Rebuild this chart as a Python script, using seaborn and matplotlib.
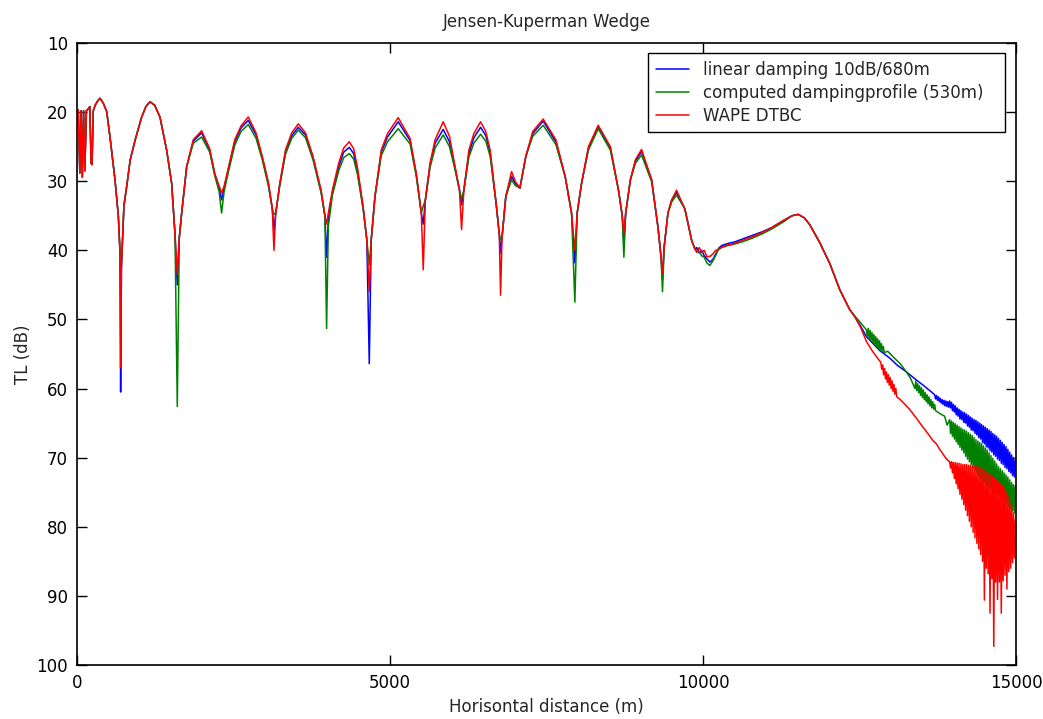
import numpy as np
import pandas as pd
import matplotlib
matplotlib.use("Agg")
import matplotlib.pyplot as plt
import seaborn as sns

# ---------------- data ----------------
title = "Jensen-Kuperman Wedge"
xlabel = "Horisontal distance (m)"
ylabel = "TL (dB)"
labels = ["linear damping 10dB/680m", "computed dampingprofile (530m)", "WAPE DTBC"]
colors = ["#0000ff", "#008000", "#ff0000"]
xticks = [0, 5000, 10000, 15000]
yticks = [10, 20, 30, 40, 50, 60, 70, 80, 90, 100]

# shared range grid, 0 .. 12345 m
x_main = [0, 20, 45, 65, 85, 105, 125, 150, 175, 205, 225, 240, 260, 290, 330, 367,
          420, 474, 527, 570, 607, 660, 687, 697, 710, 750, 790, 850, 930, 1030, 1100,
          1166, 1240, 1325, 1432, 1512, 1565, 1602, 1634, 1672, 1752, 1857, 1991, 2120,
          2200, 2270, 2310, 2350, 2420, 2520, 2620, 2736, 2860, 2960, 3060, 3120, 3146,
          3175, 3240, 3330, 3430, 3535, 3650, 3770, 3900, 3960, 3987, 4015, 4080, 4180,
          4260, 4349, 4420, 4480, 4570, 4630, 4669, 4700, 4760, 4860, 4960, 5131, 5320,
          5420, 5500, 5531, 5565, 5640, 5720, 5850, 5950, 6030, 6110, 6143, 6180, 6260,
          6340, 6447, 6530, 6600, 6700, 6745, 6766, 6790, 6850, 6942, 7000, 7075, 7170,
          7280, 7447, 7650, 7800, 7900, 7953, 7990, 8060, 8170, 8326, 8520, 8650, 8710,
          8736, 8765, 8840, 8920, 9018, 9180, 9280, 9330, 9353, 9380, 9440, 9500, 9577,
          9710, 9820, 9870, 9900, 9940, 9980, 10020, 10060, 10109, 10160, 10200, 10250,
          10300, 10400, 10500, 10650, 10800, 10950, 11100, 11300, 11420, 11520, 11620,
          11706, 11866, 12025, 12185, 12345]

red_main = [19.7, 19.7, 28.8, 19.8, 29.4, 19.8, 28.5, 19.8, 19.6, 19.2, 27.4, 27.6, 19.8, 19.0, 18.4, 18.0,
            18.7, 19.9, 23.6, 26.9, 29.8, 35.0, 40.4, 57.0, 42.0, 33.5, 31.0, 26.9, 24.0, 20.8, 19.2,
            18.5, 19.0, 20.7, 25.5, 30.3, 37.6, 43.5, 38.2, 34.6, 27.9, 24.0, 22.7, 25.3,
            28.9, 30.7, 31.7, 30.7, 28.0, 24.0, 22.0, 20.7, 23.0, 26.4, 30.3, 34.0, 40.0,
            34.6, 30.3, 25.5, 23.0, 21.7, 23.0, 26.4, 31.3, 35.0, 36.2, 34.6, 31.3, 27.4,
            25.2, 24.3, 25.3, 28.0, 33.6, 38.5, 46.0, 38.5, 32.2, 25.5, 23.1, 20.8, 23.8,
            28.9, 34.6, 42.8, 32.7, 27.4, 24.0, 21.4, 23.5, 27.4, 31.3, 37.0, 31.3, 25.5,
            23.1, 21.4, 22.8, 25.5, 33.6, 37.6, 46.5, 38.1, 32.2, 28.6, 30.0, 31.0, 26.4,
            22.8, 21.0, 24.0, 29.4, 34.6, 40.0, 34.6, 30.3, 25.0, 21.9, 25.0, 31.3, 35.0,
            37.6, 34.6, 29.8, 26.9, 25.4, 29.8, 36.6, 41.0, 43.3, 39.5, 34.6, 32.7, 31.3,
            34.0, 38.6, 39.8, 40.3, 39.6, 40.3, 40.0, 40.9, 40.9, 40.5, 40.0, 39.9,
            39.5, 39.2, 39.0, 38.5, 38.0, 37.4, 36.7, 35.6, 35.0, 34.8, 35.3,
            36.3, 38.9, 41.9, 45.7, 48.6]

blue_main = [19.7, 19.7, 28.8, 19.8, 29.4, 19.8, 28.5, 19.8, 19.6, 19.2, 27.4, 27.6, 19.8, 19.0, 18.4, 18.0,
             18.7, 19.9, 23.6, 26.9, 29.8, 35.0, 40.4, 60.5, 42.5, 33.5, 31.0, 26.9, 24.0, 20.8, 19.2,
             18.5, 19.0, 20.7, 25.5, 30.3, 37.6, 45.0, 38.2, 34.6, 27.9, 24.2, 23.0, 25.5,
             28.9, 31.0, 32.7, 31.0, 28.2, 24.3, 22.3, 21.2, 23.3, 26.6, 30.5, 34.0, 37.1,
             34.6, 30.4, 25.8, 23.4, 22.2, 23.3, 26.6, 31.5, 35.0, 41.0, 35.5, 31.6, 27.9,
             25.8, 25.1, 26.0, 28.5, 33.8, 38.5, 56.4, 38.5, 32.2, 25.8, 23.6, 21.4, 24.1,
             29.0, 34.6, 36.2, 32.7, 27.6, 24.5, 22.5, 24.3, 27.7, 31.3, 33.4, 31.3, 26.0,
             23.7, 22.2, 23.4, 25.9, 33.6, 37.6, 40.4, 38.1, 32.2, 29.3, 30.3, 31.0, 26.4,
             23.1, 21.3, 24.3, 29.4, 34.6, 41.8, 34.6, 30.3, 25.2, 22.1, 25.2, 31.3, 35.0,
             39.0, 34.6, 29.8, 27.1, 25.7, 29.8, 36.6, 41.0, 44.3, 39.5, 34.6, 32.7, 31.6,
             34.0, 38.6, 39.8, 39.6, 40.4, 40.0, 40.8, 41.2, 41.7, 41.3, 40.6, 39.7,
             39.3, 39.0, 38.8, 38.3, 37.8, 37.3, 36.7, 35.6, 35.0, 34.8, 35.3,
             36.3, 38.9, 41.9, 45.7, 48.6]

green_main = [19.7, 19.7, 28.8, 19.8, 29.4, 19.8, 28.5, 19.8, 19.6, 19.2, 27.4, 27.6, 19.8, 19.0, 18.4, 18.0,
              18.7, 19.9, 23.6, 26.9, 29.8, 35.0, 40.0, 43.8, 42.0, 33.5, 31.0, 26.9, 24.0, 20.8, 19.2,
              18.5, 19.0, 20.7, 25.5, 30.3, 37.6, 62.6, 38.2, 34.6, 27.9, 24.5, 23.6, 25.8,
              29.2, 31.5, 34.6, 31.5, 28.6, 24.8, 22.8, 21.8, 23.8, 26.9, 30.8, 34.0, 34.8,
              34.6, 30.6, 26.1, 23.8, 22.6, 23.7, 26.9, 31.7, 35.0, 51.3, 36.5, 32.0, 28.5,
              26.6, 26.0, 26.8, 29.0, 34.0, 38.5, 42.1, 38.5, 32.2, 26.3, 24.3, 22.4, 24.6,
              29.3, 34.6, 33.6, 32.7, 28.0, 25.2, 23.3, 25.0, 28.0, 31.3, 32.6, 31.3, 26.5,
              24.5, 23.2, 24.2, 26.4, 33.6, 37.6, 38.5, 38.1, 32.2, 29.8, 30.6, 31.0, 26.4,
              23.5, 21.9, 24.7, 29.4, 34.6, 47.5, 34.6, 30.3, 25.5, 22.4, 25.5, 31.3, 35.0,
              41.0, 34.6, 29.8, 27.4, 26.2, 30.1, 36.6, 41.0, 46.0, 39.5, 34.6, 33.0, 32.0,
              34.0, 38.6, 39.8, 40.0, 40.2, 40.8, 41.0, 41.8, 42.2, 41.5, 40.8, 39.8,
              39.6, 39.3, 39.1, 38.7, 38.2, 37.6, 36.9, 35.8, 35.0, 34.8, 35.3,
              36.3, 38.9, 41.9, 45.7, 48.6]

# where the three solutions split apart (12345 .. 13940 m)
red_split_x = [12425, 12520, 12612, 12700, 12780,
               12840, 12855, 12870, 12885, 12900, 12915, 12930, 12945, 12960, 12975, 12990,
               13005, 13020, 13035, 13050, 13065, 13080, 13095,
               13140, 13196, 13300, 13410, 13515, 13600, 13670, 13729, 13782, 13889]
red_split_y = [49.6, 51.2, 53.2, 54.5, 55.5,
               56.2, 57.2, 56.6, 58.0, 57.1, 58.6, 57.6, 59.1, 58.0, 59.5, 58.4,
               60.0, 58.9, 60.4, 59.4, 60.8, 60.0, 61.2,
               61.5, 62.0, 63.0, 64.3, 65.6, 66.6, 67.5, 68.0, 68.8, 70.2]

blue_split_x = [12425, 12520, 12612, 12717, 12824, 12984, 13100, 13250, 13400, 13515, 13650,
                13700, 13715, 13730, 13745, 13760, 13775, 13790, 13805, 13820, 13835, 13850,
                13865, 13880, 13895, 13910, 13925]
blue_split_y = [49.6, 51.0, 52.5, 53.5, 54.5, 55.6, 56.6, 57.6, 58.7, 59.5, 60.5,
                60.9, 61.5, 61.0, 61.7, 61.2, 61.9, 61.4, 62.1, 61.6, 62.3, 61.7,
                62.5, 61.8, 62.6, 61.9, 62.7]

green_split_x = [12425, 12520, 12610,
                 12625, 12640, 12655, 12670, 12685, 12700, 12715, 12730, 12745, 12760,
                 12775, 12790, 12805, 12820, 12835, 12850, 12865, 12880, 12895,
                 12950, 13036, 13150, 13250, 13320,
                 13385, 13400, 13415, 13430, 13445, 13460, 13475, 13490, 13505, 13520,
                 13535, 13550, 13565, 13580, 13595, 13610, 13625, 13640, 13655, 13670,
                 13685, 13700, 13715,
                 13782, 13860, 13900]
green_split_y = [49.5, 50.5, 51.5,
                 52.4, 51.3, 52.8, 51.6, 53.0, 51.9, 53.3, 52.2, 53.6, 52.5,
                 53.9, 52.8, 54.2, 53.1, 54.4, 53.5, 54.6, 53.9, 54.8,
                 54.6, 55.4, 56.4, 57.6, 58.6,
                 60.0, 58.9, 60.3, 59.3, 60.6, 59.6, 61.0, 59.9, 61.3, 60.2,
                 61.6, 60.6, 61.9, 60.9, 62.2, 61.2, 62.5, 61.6, 62.8, 61.9,
                 63.0, 62.3, 63.2,
                 63.6, 64.0, 65.3]

# noisy far field, shared grid 13940 .. 14990 m
x_tail = [13940, 13955, 13970, 13985, 14000, 14015, 14030, 14045, 14060, 14075, 14090, 14105,
          14120, 14135, 14150, 14165, 14180, 14195, 14210, 14225, 14240, 14255, 14270, 14285,
          14300, 14315, 14330, 14345, 14360, 14375, 14390, 14405, 14420, 14435, 14450, 14465,
          14480, 14495, 14510, 14525, 14540, 14555, 14570, 14585, 14600, 14615, 14630, 14645,
          14660, 14675, 14690, 14705, 14720, 14735, 14750, 14765, 14780, 14795, 14810, 14825,
          14840, 14855, 14870, 14885, 14900, 14915, 14930, 14945, 14960, 14975, 14990]
red_tail = [70.6, 71.5, 70.6, 72.2, 70.7, 73.0, 70.7, 73.8, 70.8, 74.5, 70.8, 75.3,
            70.9, 76.0, 71.0, 76.8, 71.0, 77.6, 71.0, 78.4, 71.1, 79.2, 71.1, 80.0,
            71.2, 80.8, 71.2, 81.6, 71.2, 82.4, 71.3, 83.2, 71.4, 84.0, 71.5, 85.0,
            71.6, 90.6, 71.8, 86.0, 72.0, 86.8, 72.2, 92.5, 72.5, 87.5, 72.7, 97.3,
            73.0, 88.0, 73.3, 90.5, 73.5, 88.0, 73.8, 92.5, 74.0, 87.8, 74.5, 87.0,
            75.0, 89.0, 75.5, 86.5, 76.5, 86.0, 77.0, 85.2, 78.0, 84.5, 79.0]
blue_tail = [61.8, 62.8, 62.0, 63.2, 62.3, 63.4, 62.5, 63.8, 62.8, 64.0, 63.0, 64.4,
             63.2, 64.5, 63.4, 64.9, 63.5, 65.0, 63.7, 65.4, 63.9, 65.6, 64.1, 66.0,
             64.3, 66.1, 64.5, 66.5, 64.6, 66.7, 64.8, 67.1, 65.0, 67.3, 65.2, 67.8,
             65.4, 68.0, 65.6, 68.4, 65.8, 68.6, 66.0, 69.0, 66.2, 69.2, 66.5, 69.6,
             66.7, 69.8, 66.9, 70.2, 67.2, 70.4, 67.5, 70.8, 67.8, 71.0, 68.1, 71.4,
             68.4, 71.6, 68.8, 72.0, 69.2, 72.2, 69.6, 72.6, 70.0, 72.8, 70.4]
green_tail = [64.5, 66.5, 64.7, 66.9, 64.9, 67.3, 65.1, 67.7, 65.3, 68.1, 65.5, 68.5,
              65.7, 68.9, 65.9, 69.3, 66.0, 69.8, 66.2, 70.2, 66.4, 70.6, 66.6, 71.0,
              66.8, 71.4, 67.1, 71.8, 67.4, 72.2, 67.6, 72.6, 67.8, 73.0, 68.0, 73.3,
              68.3, 73.6, 68.6, 73.9, 68.9, 74.2, 69.3, 74.5, 69.7, 74.7, 70.1, 74.9,
              70.5, 75.1, 70.9, 75.3, 71.3, 75.6, 71.6, 75.9, 71.9, 76.2, 72.2, 76.5,
              72.5, 76.8, 72.8, 77.1, 73.2, 77.4, 73.6, 77.7, 73.9, 78.0, 74.1]

# ---------------- figure ----------------
sns.set_style("ticks")
plt.rcParams["font.family"] = ["DejaVu Sans"]
plt.rcParams["font.size"] = 12

W, H = 1043, 719
fig = plt.figure(figsize=(W / 100, H / 100), dpi=100)
ax = fig.add_axes([77 / W, 1 - 665 / H, 939 / W, 622 / H])

series = [
    (x_main + blue_split_x + x_tail, blue_main + blue_split_y + blue_tail),
    (x_main + green_split_x + x_tail, green_main + green_split_y + green_tail),
    (x_main + red_split_x + x_tail, red_main + red_split_y + red_tail),
]
for (xs, ys), lab, col in zip(series, labels, colors):
    df = pd.DataFrame({"x": xs, "y": ys})
    sns.lineplot(data=df, x="x", y="y", color=col, linewidth=1.1, sort=False,
                 estimator=None, ax=ax, label=lab)

ax.set_xlim(0, 15000)
ax.set_ylim(100, 10)
ax.set_xticks(xticks)
ax.set_yticks(yticks)
ax.set_xticklabels([str(t) for t in xticks])
ax.set_yticklabels([str(t) for t in yticks])
ax.tick_params(direction="in", top=True, right=True, length=7, width=1.0,
               pad=6.5, labelsize=12, colors="black")
for sp in ax.spines.values():
    sp.set_visible(True)
    sp.set_linewidth(1.2)
    sp.set_color("black")

ax.set_xlabel(xlabel, fontsize=12, labelpad=4)
ax.set_ylabel(ylabel, fontsize=12, labelpad=3)
ax.set_title(title, fontsize=12, pad=11.5)

leg = ax.legend(loc="upper left", bbox_to_anchor=(0.6081, 0.0, 0.3802, 0.9844),
                mode="expand", borderaxespad=0,
                fancybox=False, edgecolor="black", framealpha=1, fontsize=12,
                handlelength=2.0, handletextpad=0.8, borderpad=0.47, labelspacing=0.3)
leg.get_frame().set_linewidth(1.0)
for ln in leg.get_lines():
    ln.set_linewidth(1.1)

fig.savefig("out.png", dpi=100, facecolor="white")
